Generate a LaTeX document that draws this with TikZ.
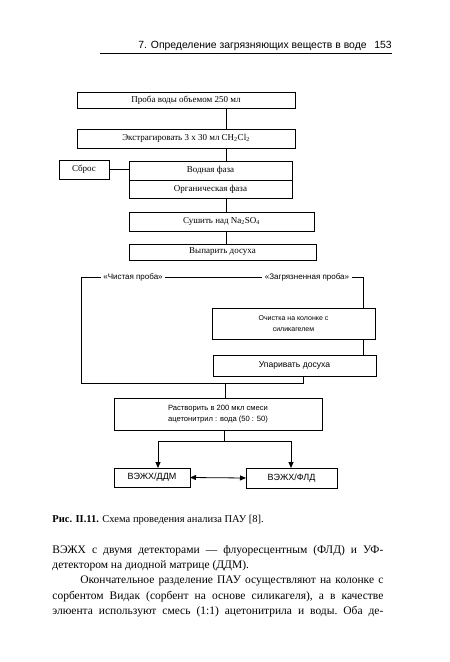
\documentclass[tikz,border=0pt]{standalone}
\usepackage{fontspec}
\setmainfont{Liberation Serif}
\setsansfont{Liberation Sans}
\usetikzlibrary{positioning,arrows.meta}

\begin{document}
\begin{tikzpicture}[x=1pt,y=-1pt,line width=0.8pt,
    box/.style={draw, outer sep=0pt, inner sep=1pt, font=\fontsize{9}{10}\selectfont},
    sbox/.style={box, align=center, font=\sffamily\fontsize{7}{11}\selectfont},
    lbl/.style={inner sep=2pt, font=\sffamily\fontsize{8}{9}\selectfont},
    tip/.style={-{Triangle[length=6pt,width=5pt]}},
    tips/.style={{Triangle[length=6pt,width=5pt]}-{Triangle[length=6pt,width=5pt]}}]

    \useasboundingbox[fill=white] (0,0) rectangle (450,662);

    % running head
    \node[anchor=base west, inner sep=0pt, font=\sffamily\fontsize{10.4}{12}\selectfont] (chapter) at (138,48) {7. Определение загрязняющих веществ в воде};
    \node[anchor=base west, inner sep=0pt, font=\sffamily\fontsize{10.4}{12}\selectfont] (pagenum) at (374,48) {153};
    \coordinate (ruleL) at (100,53);
    \draw[line width=0.6pt] (ruleL) -- (ruleL -| pagenum.east);

    % sample preparation
    \node[box, minimum width=218, minimum height=16] (probe) at (186,100) {Проба воды объемом 250 мл};
    \node[box, minimum width=218, minimum height=19] (extract) at (186,138.5) {Экстрагировать 3 x 30 мл CH\textsubscript{2}Cl\textsubscript{2}};
    \node[box, minimum width=163, minimum height=19] (water) at (210.5,170.5) {Водная фаза};
    \node[box, minimum width=163, minimum height=18, below=0pt of water] (organic) {Органическая фаза};
    \node[box, minimum width=50, minimum height=19] (waste) at (84,169.5) {Сброс};
    \node[box, minimum width=185, minimum height=19] (dry) at (221.5,221.5) {Сушить над Na\textsubscript{2}SO\textsubscript{4}};
    \node[box, minimum width=187, minimum height=16] (evap) at (222.5,252) {Выпарить досуха};

    % two branches
    \node[lbl] (clean) at (133,277) {«Чистая проба»};
    \node[lbl] (dirty) at (307,277) {«Загрязненная проба»};
    \node[sbox, minimum width=163, minimum height=31] (column) at (293.5,323.5) {Очистка на колонке с\\силикагелем};
    \node[sbox, minimum width=163, minimum height=21, font=\sffamily\fontsize{8.6}{10}\selectfont] (reduce) at (294.5,365.5) {Упаривать досуха};
    \node[sbox, minimum width=208, minimum height=32, font=\sffamily\fontsize{7.6}{11.5}\selectfont] (dissolve) at (218,414) {Растворить в 200 мкл смеси\\ацетонитрил : вода (50 : 50)};
    \node[sbox, minimum width=76, minimum height=19, font=\sffamily\fontsize{9}{10}\selectfont] (ddm) at (152,477.5) {ВЭЖХ/ДДМ};
    \node[sbox, minimum width=91, minimum height=20, font=\sffamily\fontsize{9}{10}\selectfont] (fld) at (291.5,478) {ВЭЖХ/ФЛД};

    \coordinate (mainx) at (226,0);
    \coordinate (branchL) at (81,277);
    \coordinate (branchR) at (363,277);
    \coordinate (joinL) at (81,383);
    \coordinate (joinR) at (303,383);
    \coordinate (mid) at (225,383);
    \coordinate (split) at (224,441);
    \coordinate (splitL) at (158,441);
    \coordinate (splitR) at (291,441);

    \draw (probe.south -| mainx) -- (extract.north -| mainx);
    \draw (extract.south -| mainx) -- (water.north -| mainx);
    \draw (waste.east) -- (waste.east -| water.west);
    \draw (organic.south -| mainx) -- (dry.north -| mainx);
    \draw (dry.south -| mainx) -- (evap.north -| mainx);

    \draw (clean.west) -- (branchL) -- (joinL) -- (joinR) -- (reduce.south -| joinR);
    \draw (clean.east) -- (dirty.west);
    \draw (dirty.east) -- (branchR) -- (column.north -| branchR);
    \draw (column.south -| branchR) -- (reduce.north -| branchR);
    \draw (mid) -- (dissolve.north -| mid);

    \draw (dissolve.south -| split) -- (split);
    \draw (splitL) -- (splitR);
    \draw[tip] (splitL) -- (ddm.north -| splitL);
    \draw[tip] (splitR) -- (fld.north -| splitR);
    \draw[tips] (ddm.east) -- (fld.west);

    % caption and text
    \node[anchor=base west, inner sep=0pt, font=\fontsize{10.5}{12}\selectfont] (caption) at (52,522) {\textbf{Рис. II.11.} Схема проведения анализа ПАУ [8].};
    \node[anchor=north west, inner sep=0pt, text width=331, align=justify, font=\fontsize{11.5}{15.3}\selectfont] (body) at (52,545) {\parindent=0pt\frenchspacing
        ВЭЖХ с двумя детекторами — флуоресцентным (ФЛД) и УФ-\linebreak
        детектором на диодной матрице (ДДМ).\par
        \hspace*{28pt}Окончательное разделение ПАУ осуществляют на колонке с\linebreak
        сорбентом Видак (сорбент на основе силикагеля), а в качестве\linebreak
        элюента используют смесь (1:1) ацетонитрила и воды. Оба де-\parfillskip=0pt\par};

\end{tikzpicture}
\end{document}
